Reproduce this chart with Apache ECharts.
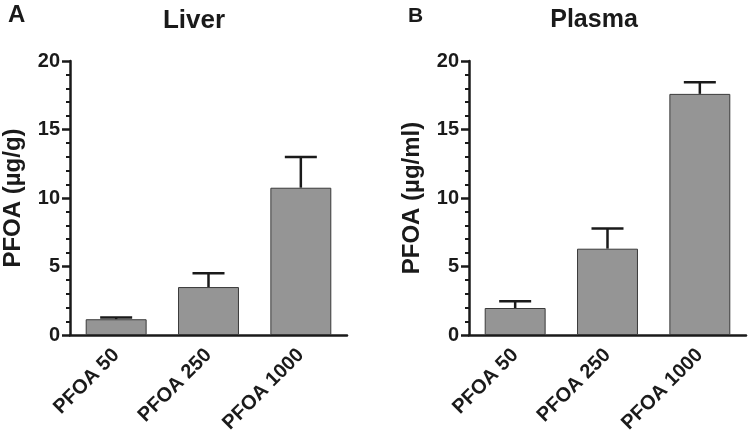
<!DOCTYPE html>
<html>
<head>
<meta charset="utf-8">
<script src="https://cdn.jsdelivr.net/npm/echarts@6/dist/echarts.min.js"></script>
<style>html,body{margin:0;padding:0;background:#fff}#c{width:750px;height:446px}</style>
</head>
<body>
<div id="c"></div>
<script>
var categories = ['PFOA 50', 'PFOA 250', 'PFOA 1000'];
var liverMean = [1.15, 3.5, 10.75];
var liverErr = [0.12, 1.0, 2.25];
var plasmaMean = [1.97, 6.3, 17.6];
var plasmaErr = [0.5, 1.47, 0.85];
var yTicks = [0, 5, 10, 15, 20];

var FONT = 'Liberation Sans, Arial, sans-serif';
var TXT = '#1a1a1a';
var chart = echarts.init(document.getElementById('c'), null, {renderer: 'canvas'});

function errData(mean, err) {
  return mean.map(function (m, i) { return [i, m, m + err[i]]; });
}
function errRender(params, api) {
  var i = api.value(0);
  var lo = api.coord([i, api.value(1)]);
  var hi = api.coord([i, api.value(2)]);
  var half = 16;
  var st = {stroke: '#1a1a1a', lineWidth: 2.5};
  return {
    type: 'group',
    children: [
      {type: 'line', shape: {x1: lo[0], y1: lo[1], x2: hi[0], y2: hi[1]}, style: st},
      {type: 'line', shape: {x1: hi[0] - half, y1: hi[1], x2: hi[0] + half, y2: hi[1]}, style: st}
    ]
  };
}
function xAxis(idx) {
  return {
    type: 'category', gridIndex: idx, data: categories,
    axisLine: {lineStyle: {color: '#1a1a1a', width: 2.5}},
    axisTick: {alignWithLabel: true, length: 8, lineStyle: {color: '#1a1a1a', width: 2.5}},
    axisLabel: {rotate: 45, margin: 17, color: TXT, fontSize: 20, fontWeight: 'bold', fontFamily: FONT}
  };
}
function yAxis(idx, name) {
  return {
    type: 'value', gridIndex: idx, min: yTicks[0], max: yTicks[yTicks.length - 1], interval: 5,
    name: name, nameLocation: 'middle', nameGap: 45,
    nameTextStyle: {color: TXT, fontSize: 24, fontWeight: 'bold', fontFamily: FONT},
    axisLine: {show: true, lineStyle: {color: '#1a1a1a', width: 2.5}},
    axisTick: {show: true, length: 8, lineStyle: {color: '#1a1a1a', width: 2.5}},
    minorTick: {show: true, splitNumber: 5, length: 4, lineStyle: {color: '#1a1a1a', width: 2}},
    splitLine: {show: false},
    axisLabel: {margin: 10, color: TXT, fontSize: 20, fontWeight: 'bold', fontFamily: FONT}
  };
}
var barStyle = {color: '#959595', borderColor: '#3a3a3a', borderWidth: 1};

chart.setOption({
  animation: false,
  title: [
    {text: 'A', left: 3, top: -2, textStyle: {fontSize: 24, fontWeight: 'bold', color: TXT, fontFamily: FONT}},
    {text: 'Liver', left: 189, top: 3, textAlign: 'center', textStyle: {fontSize: 26, fontWeight: 'bold', color: TXT, fontFamily: FONT}},
    {text: 'B', left: 403, top: 1, textStyle: {fontSize: 21, fontWeight: 'bold', color: TXT, fontFamily: FONT}},
    {text: 'Plasma', left: 589, top: 3, textAlign: 'center', textStyle: {fontSize: 25, fontWeight: 'bold', color: TXT, fontFamily: FONT}}
  ],
  grid: [
    {left: 69, right: 403, top: 61, bottom: 111},
    {left: 469, right: 4, top: 61, bottom: 111}
  ],
  xAxis: [xAxis(0), xAxis(1)],
  yAxis: [yAxis(0, 'PFOA (µg/g)'), yAxis(1, 'PFOA (µg/ml)')],
  series: [
    {type: 'bar', xAxisIndex: 0, yAxisIndex: 0, data: liverMean, barWidth: '66%', itemStyle: barStyle},
    {type: 'custom', xAxisIndex: 0, yAxisIndex: 0, data: errData(liverMean, liverErr), renderItem: errRender, z: 1},
    {type: 'bar', xAxisIndex: 1, yAxisIndex: 1, data: plasmaMean, barWidth: '66%', itemStyle: barStyle},
    {type: 'custom', xAxisIndex: 1, yAxisIndex: 1, data: errData(plasmaMean, plasmaErr), renderItem: errRender, z: 1}
  ]
});
</script>
</body>
</html>
